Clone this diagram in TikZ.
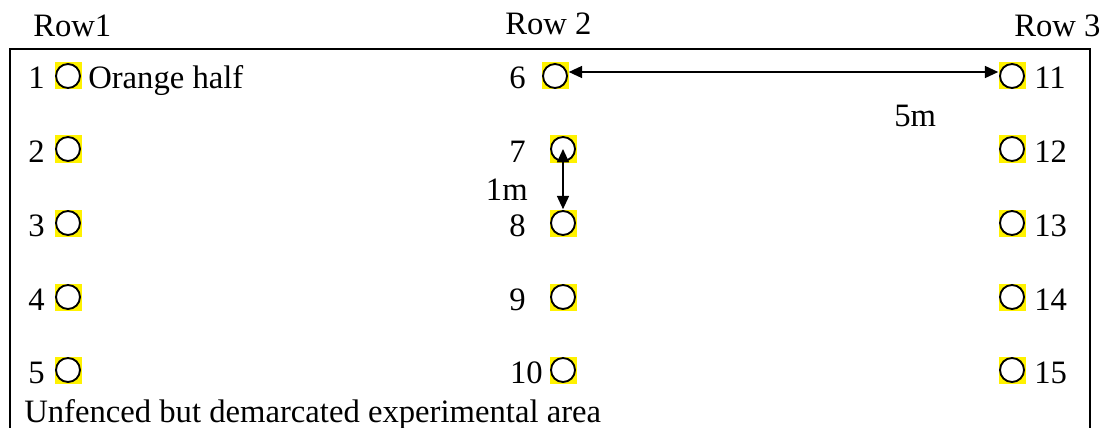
\documentclass[tikz,border=0pt]{standalone}
\usepackage{fontspec}
\setmainfont{Liberation Serif}
\usetikzlibrary{arrows.meta}
\begin{document}
\begin{tikzpicture}[x=0.75pt, y=-0.75pt,
  every node/.style={font=\fontsize{24.5pt}{28pt}\selectfont, inner sep=0pt},
  hole/.style={rectangle, fill=yellow, minimum size=20.25pt, inner sep=0pt,
    path picture={\draw[line width=1.4pt, fill=white] (path picture bounding box.center) circle[radius=9pt];}},
  lbl/.style={anchor=base east},
  rlbl/.style={anchor=base west},
  frame/.style={line width=1.5pt},
  meas/.style={line width=1.2pt, {Triangle[length=10pt,width=9pt]}-{Triangle[length=10pt,width=9pt]}}]
\useasboundingbox (0,0) rectangle (1104,428);
\clip (0,0) rectangle (1104,428);

% demarcated area boundary
\draw[frame] (9.5,460) -- (9.5,49) -- (1090,49) -- (1090,460);

% row headings
\node[rlbl] (h1) at (33,37) {Row1};
\node[rlbl] (h2) at (505,35) {Row 2};
\node[rlbl] (h3) at (1014,37) {Row 3};

% planting holes, row 1
\node[hole] (c1) at (68,76) {};
\node[hole] (c2) at (68,149) {};
\node[hole] (c3) at (68,223) {};
\node[hole] (c4) at (68,297) {};
\node[hole] (c5) at (68,370) {};
% row 2
\node[hole] (c6) at (555,76) {};
\node[hole] (c7) at (563,149) {};
\node[hole] (c8) at (563,223) {};
\node[hole] (c9) at (563,297) {};
\node[hole] (c10) at (563,370) {};
% row 3
\node[hole] (c11) at (1012,76) {};
\node[hole] (c12) at (1012,149) {};
\node[hole] (c13) at (1012,223) {};
\node[hole] (c14) at (1012,297) {};
\node[hole] (c15) at (1012,370) {};

% hole numbers
\node[lbl] (n1) at (45,89) {1};
\node[lbl] (n2) at (45,162) {2};
\node[lbl] (n3) at (45,236) {3};
\node[lbl] (n4) at (45,310) {4};
\node[lbl] (n5) at (45,383) {5};
\node[rlbl] (oh) at (88,89) {Orange half};
\node[lbl] (n6) at (526,89) {6};
\node[lbl] (n7) at (526,162) {7};
\node[lbl] (n8) at (526,236) {8};
\node[lbl] (n9) at (526,310) {9};
\node[lbl] (n10) at (543,383) {10};
\node[rlbl] (n11) at (1034,89) {11};
\node[rlbl] (n12) at (1034,162) {12};
\node[rlbl] (n13) at (1034,236) {13};
\node[rlbl] (n14) at (1034,310) {14};
\node[rlbl] (n15) at (1034,383) {15};

% spacing measures
\draw[meas] ([yshift=3pt]c6.east) -- ([yshift=3pt]c11.west);
\draw[meas] (c7.center) -- (c8.north);
\node[rlbl] (d5) at (894,127) {5m};
\node[lbl] (d1) at (528,200) {1m};

% caption
\node[rlbl] (cap) at (24,422) {Unfenced but demarcated experimental area};
\end{tikzpicture}
\end{document}
